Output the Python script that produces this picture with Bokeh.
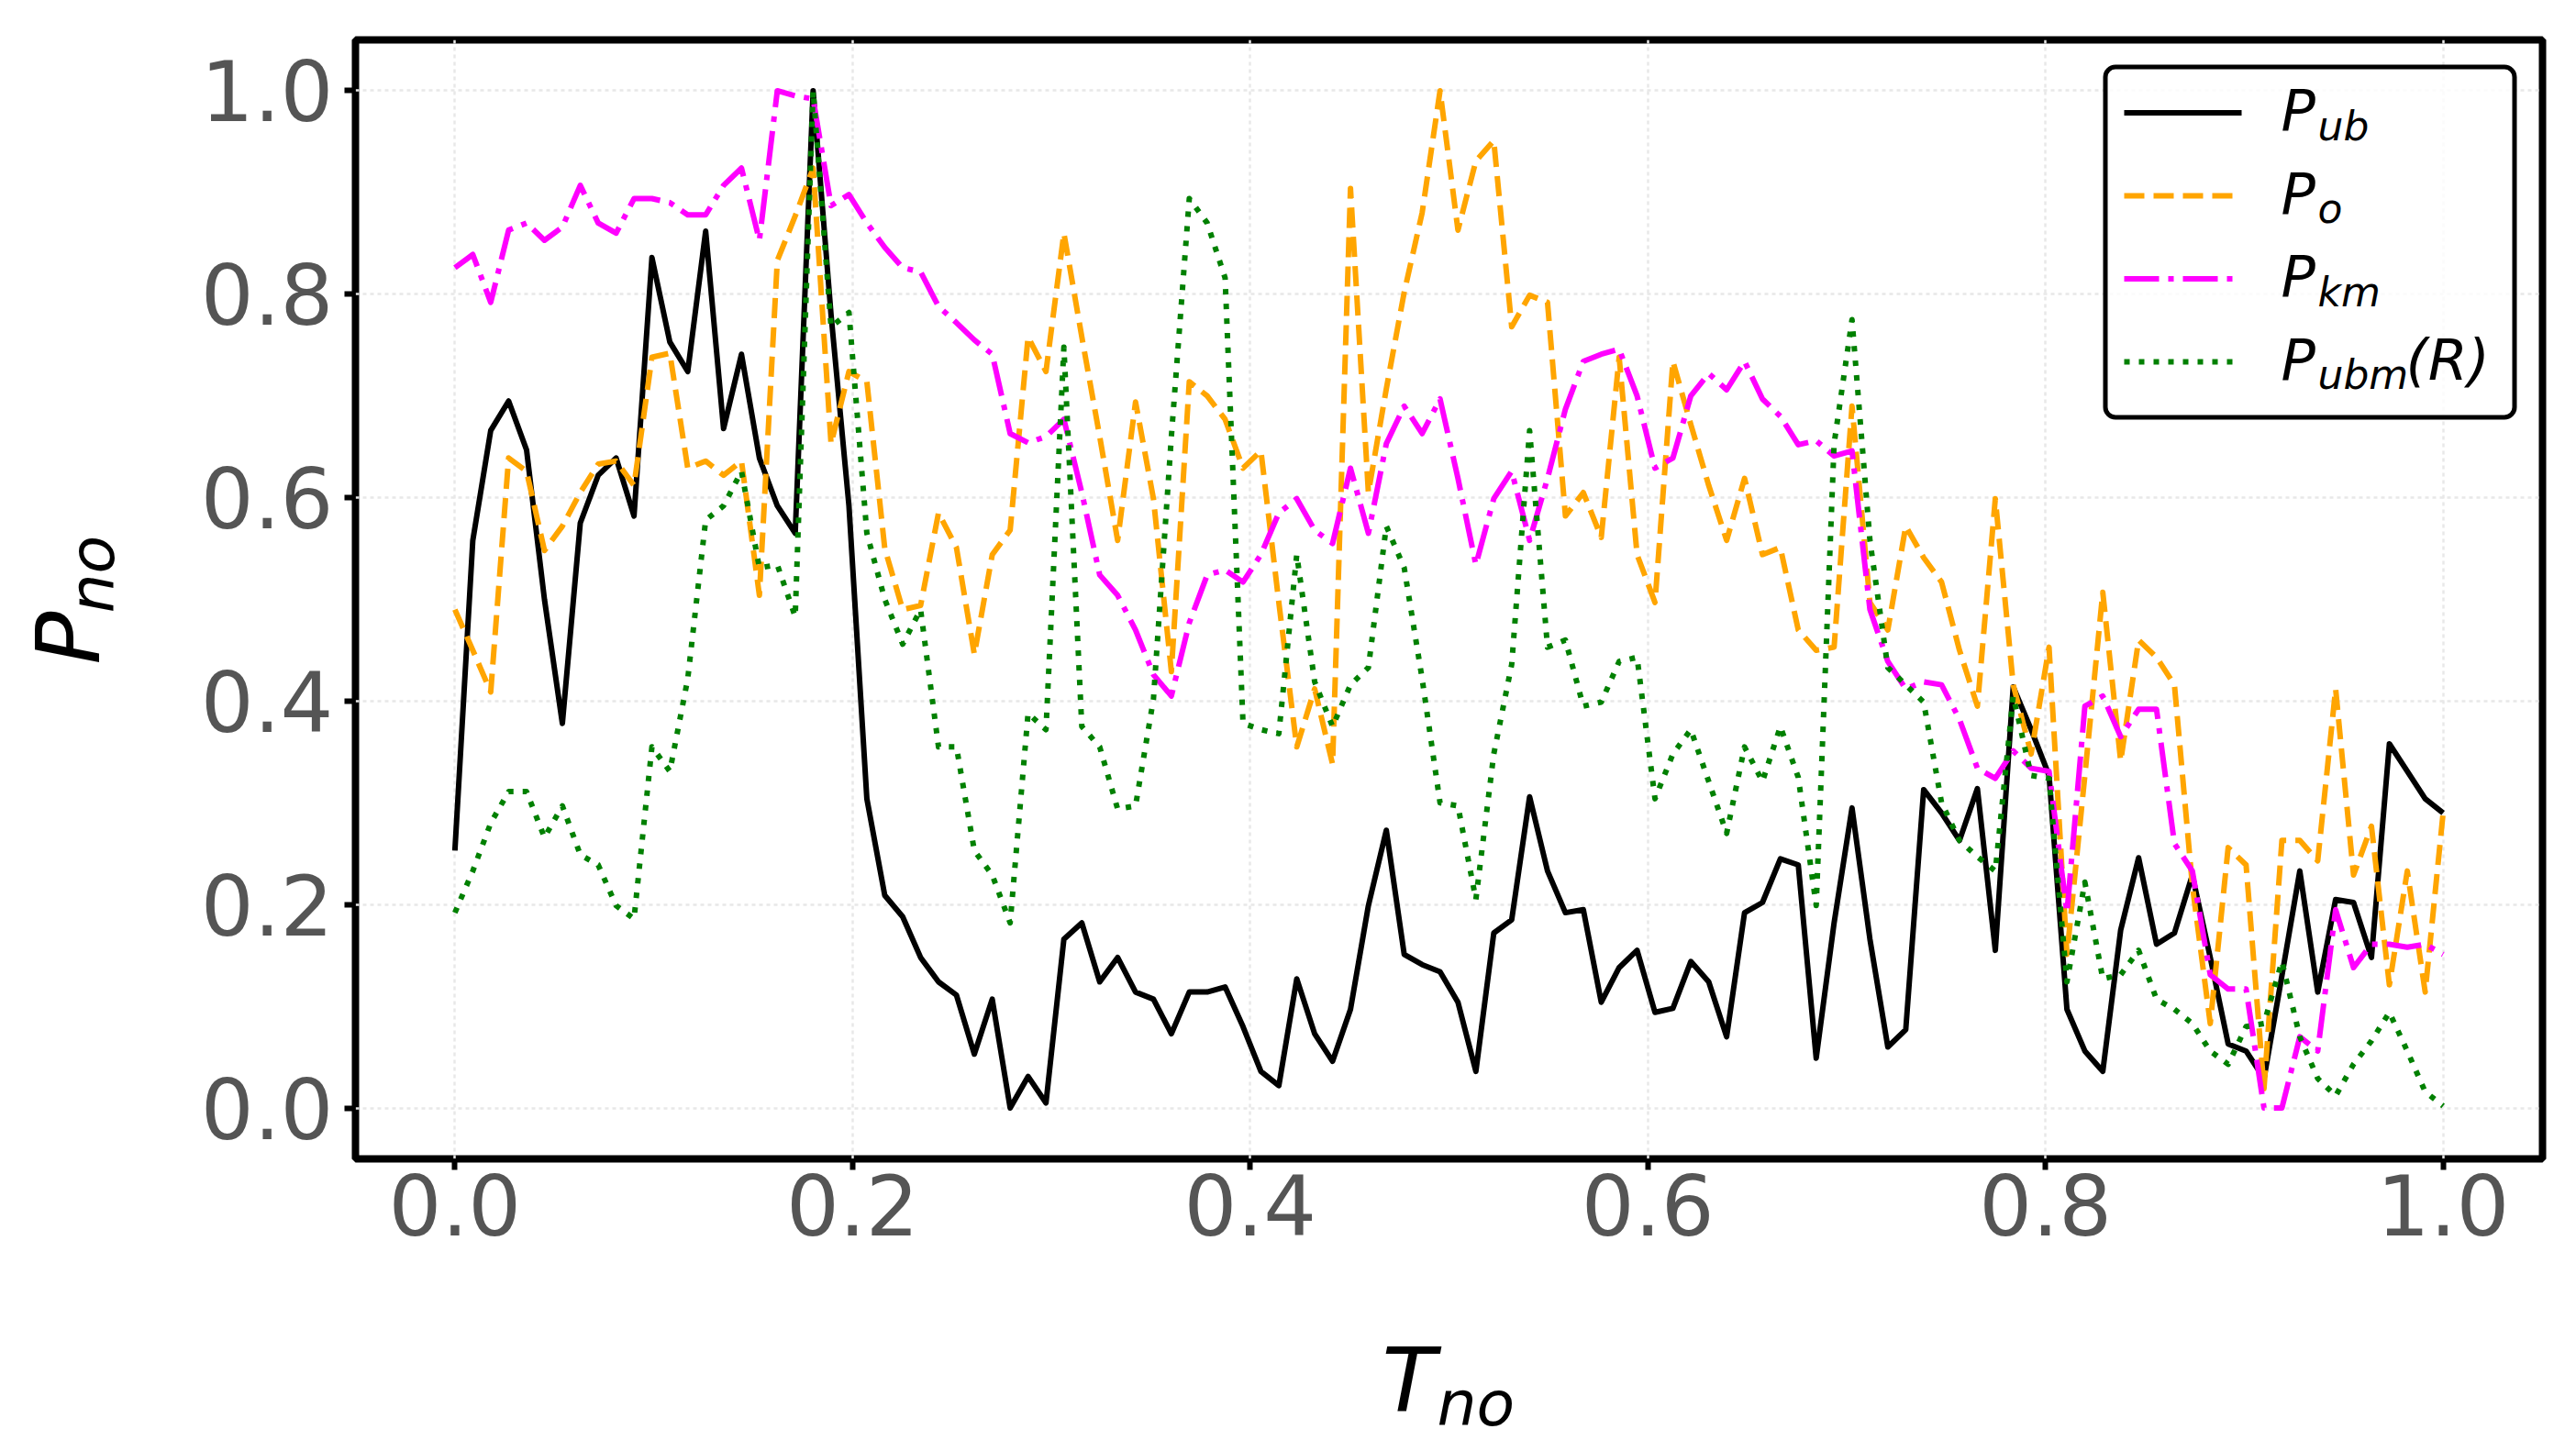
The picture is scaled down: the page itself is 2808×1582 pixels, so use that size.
import numpy as np
from math import pi
from bokeh.plotting import figure
from bokeh.models import Range1d, FixedTicker, NumeralTickFormatter, Label, BoxAnnotation
from bokeh.embed import file_html
from bokeh.resources import INLINE

# ---- data: normalised time vs normalised probability, 112 samples ----
T_no = np.linspace(0.0, 1.0, 112)

P_ub = [
    0.253, 0.558, 0.666, 0.695, 0.647, 0.500, 0.378, 0.575, 0.622, 0.639,
    0.582, 0.836, 0.753, 0.724, 0.862, 0.668, 0.741, 0.639, 0.592, 0.565,
    1.000, 0.780, 0.592, 0.304, 0.209, 0.188, 0.148, 0.124, 0.111, 0.053,
    0.107, 0.000, 0.031, 0.005, 0.166, 0.182, 0.124, 0.148, 0.114, 0.107,
    0.073, 0.114, 0.114, 0.119, 0.080, 0.036, 0.022, 0.127, 0.073, 0.046,
    0.097, 0.199, 0.273, 0.151, 0.141, 0.134, 0.104, 0.036, 0.172, 0.185,
    0.306, 0.233, 0.192, 0.195, 0.104, 0.138, 0.155, 0.094, 0.098, 0.144,
    0.124, 0.070, 0.192, 0.202, 0.245, 0.239, 0.049, 0.182, 0.295, 0.166,
    0.060, 0.077, 0.313, 0.290, 0.263, 0.314, 0.155, 0.414, 0.372, 0.327,
    0.097, 0.056, 0.036, 0.175, 0.246, 0.161, 0.172, 0.229, 0.148, 0.063,
    0.056, 0.029, 0.130, 0.233, 0.114, 0.205, 0.202, 0.148, 0.358, 0.331,
    0.304, 0.290,
]

P_o = [
    0.490, 0.450, 0.409, 0.639, 0.626, 0.548, 0.572, 0.605, 0.633, 0.636,
    0.612, 0.738, 0.742, 0.629, 0.636, 0.622, 0.636, 0.504, 0.833, 0.877,
    0.924, 0.653, 0.724, 0.714, 0.550, 0.490, 0.494, 0.585, 0.551, 0.446,
    0.544, 0.568, 0.758, 0.724, 0.860, 0.758, 0.660, 0.558, 0.694, 0.599,
    0.429, 0.714, 0.700, 0.677, 0.629, 0.646, 0.497, 0.355, 0.412, 0.338,
    0.904, 0.605, 0.707, 0.802, 0.880, 1.000, 0.863, 0.931, 0.951, 0.768,
    0.799, 0.792, 0.582, 0.605, 0.561, 0.738, 0.544, 0.497, 0.734, 0.672,
    0.612, 0.558, 0.619, 0.544, 0.551, 0.470, 0.450, 0.453, 0.690, 0.497,
    0.470, 0.572, 0.541, 0.517, 0.450, 0.395, 0.599, 0.416, 0.348, 0.453,
    0.151, 0.327, 0.507, 0.341, 0.460, 0.443, 0.416, 0.219, 0.083, 0.256,
    0.239, 0.019, 0.263, 0.263, 0.243, 0.412, 0.229, 0.277, 0.121, 0.233,
    0.114, 0.290,
]

P_km = [
    0.826, 0.839, 0.792, 0.863, 0.870, 0.853, 0.866, 0.907, 0.870, 0.860,
    0.894, 0.894, 0.890, 0.878, 0.878, 0.907, 0.924, 0.853, 1.000, 0.995,
    0.992, 0.887, 0.898, 0.870, 0.846, 0.826, 0.822, 0.788, 0.772, 0.755,
    0.741, 0.663, 0.654, 0.660, 0.677, 0.605, 0.524, 0.504, 0.470, 0.426,
    0.405, 0.477, 0.524, 0.529, 0.517, 0.544, 0.585, 0.599, 0.568, 0.555,
    0.629, 0.565, 0.653, 0.690, 0.663, 0.697, 0.619, 0.534, 0.599, 0.626,
    0.558, 0.619, 0.687, 0.734, 0.741, 0.746, 0.700, 0.629, 0.639, 0.700,
    0.722, 0.706, 0.734, 0.697, 0.680, 0.652, 0.656, 0.641, 0.646, 0.490,
    0.439, 0.412, 0.419, 0.416, 0.382, 0.334, 0.324, 0.351, 0.334, 0.331,
    0.192, 0.395, 0.405, 0.365, 0.392, 0.392, 0.260, 0.233, 0.131, 0.117,
    0.117, 0.000, 0.000, 0.070, 0.056, 0.195, 0.138, 0.161, 0.161, 0.158,
    0.161, 0.151,
]

P_ubm_R = [
    0.192, 0.233, 0.280, 0.311, 0.311, 0.266, 0.297, 0.249, 0.239, 0.199,
    0.186, 0.355, 0.331, 0.422, 0.578, 0.592, 0.626, 0.531, 0.534, 0.483,
    1.000, 0.768, 0.782, 0.565, 0.500, 0.456, 0.490, 0.355, 0.355, 0.253,
    0.229, 0.182, 0.388, 0.372, 0.748, 0.375, 0.355, 0.294, 0.297, 0.402,
    0.660, 0.894, 0.870, 0.816, 0.378, 0.372, 0.368, 0.544, 0.419, 0.375,
    0.416, 0.433, 0.572, 0.531, 0.422, 0.300, 0.297, 0.205, 0.348, 0.436,
    0.666, 0.453, 0.460, 0.395, 0.399, 0.439, 0.443, 0.304, 0.348, 0.372,
    0.321, 0.270, 0.355, 0.321, 0.375, 0.325, 0.199, 0.653, 0.775, 0.558,
    0.433, 0.416, 0.399, 0.300, 0.263, 0.247, 0.233, 0.405, 0.327, 0.324,
    0.124, 0.222, 0.127, 0.131, 0.155, 0.107, 0.097, 0.083, 0.056, 0.043,
    0.080, 0.083, 0.144, 0.070, 0.029, 0.012, 0.043, 0.066, 0.094, 0.056,
    0.016, 0.002,
]

tick_values = [0.0, 0.2, 0.4, 0.6, 0.8, 1.0]

# series: (values, colour, dash pattern, subscript, suffix)
series = [
    (P_ub, "black", "solid", "ub", ""),
    (P_o, "orange", "22 10", "o", ""),
    (P_km, "magenta", "38 10 6 10", "km", ""),
    (P_ubm_R, "green", "6 10", "ubm", "(R)"),
]

# ---- canvas / frame geometry (pixels) ----
W, H = 2808, 1582
BL, BR, BT, BB = 387, 37, 43, 319

p = figure(
    width=W, height=H, output_backend="svg", toolbar_location=None,
    x_range=Range1d(-0.05, 1.05), y_range=Range1d(-0.05, 1.05),
    min_border_left=BL, min_border_right=BR, min_border_top=BT, min_border_bottom=BB,
)
# pixel-space ranges for decorations placed by canvas position
p.extra_x_ranges = {"cx": Range1d(BL, W - BR)}
p.extra_y_ranges = {"cy": Range1d(H - BB, BT)}

p.background_fill_color = "white"
p.border_fill_color = "white"
p.outline_line_color = "black"
p.outline_line_width = 8

for ax in (p.xaxis[0], p.yaxis[0]):
    ax.ticker = FixedTicker(ticks=tick_values)
    ax.formatter = NumeralTickFormatter(format="0.0")
    ax.axis_line_color = None
    ax.major_tick_out = 12
    ax.major_tick_in = 0
    ax.major_tick_line_width = 6
    ax.major_tick_line_color = "black"
    ax.minor_tick_line_color = None
    ax.major_label_text_font = "DejaVu Sans"
    ax.major_label_text_font_size = "91px"
    ax.major_label_text_color = "#555555"
p.yaxis[0].major_label_standoff = 12
p.xaxis[0].major_label_standoff = 4

p.grid.grid_line_color = "#e8e8e8"
p.grid.grid_line_width = 2.5
p.grid.grid_line_dash = "4 4"

# ---- data lines ----
for vals, col, dash, sub, suf in series:
    p.line(T_no, vals, line_color=col, line_width=6, line_dash=dash, line_join="round")

# ---- legend ----
leg_left, leg_right, leg_top, leg_bottom = 2294.5, 2740.5, 72.5, 454.5
p.add_layout(BoxAnnotation(
    left=leg_left, right=leg_right, top=leg_top, bottom=leg_bottom,
    x_range_name="cx", y_range_name="cy",
    fill_color="white", fill_alpha=0.8, line_color="black", line_alpha=1.0,
    line_width=5, border_radius=11, level="underlay",
))

BASE_SHIFT = 0.34  # text baseline correction, in em


def math_label(x, y, text, size, angle=0.0, panel=None):
    """Italic label whose alphabetic baseline sits at canvas pixel (x, y)."""
    d = BASE_SHIFT * size
    if angle:
        x -= d
    else:
        y -= d
    lab = Label(x=x, y=y, text=text, angle=angle, x_range_name="cx", y_range_name="cy",
                text_font="DejaVu Sans", text_font_style="italic", text_color="black",
                text_baseline="alphabetic", text_align="left",
                text_font_size=f"{size}px")
    if panel:
        p.add_layout(lab, panel)
    else:
        p.add_layout(lab)


row0, row_step = 122.5, 90.5
for k, (vals, col, dash, sub, suf) in enumerate(series):
    yy = row0 + k * row_step
    p.line([2315, 2443], [yy, yy], x_range_name="cx", y_range_name="cy",
           line_color=col, line_width=6, line_dash=dash)
    base = yy + 19
    math_label(2486, base, "P", 62)
    math_label(2526, base + 10, sub, 44)
    if suf:
        math_label(2622, base, suf, 62)

# ---- axis titles (side panels, so they are not clipped by the frame) ----
math_label(1506, 1537, "T", 96, panel="below")
math_label(1566, 1553, "no", 68, panel="below")
math_label(107, 724, "P", 96, angle=pi / 2, panel="left")
math_label(123, 668, "no", 68, angle=pi / 2, panel="left")

open("out.html", "w").write(file_html(p, INLINE))
